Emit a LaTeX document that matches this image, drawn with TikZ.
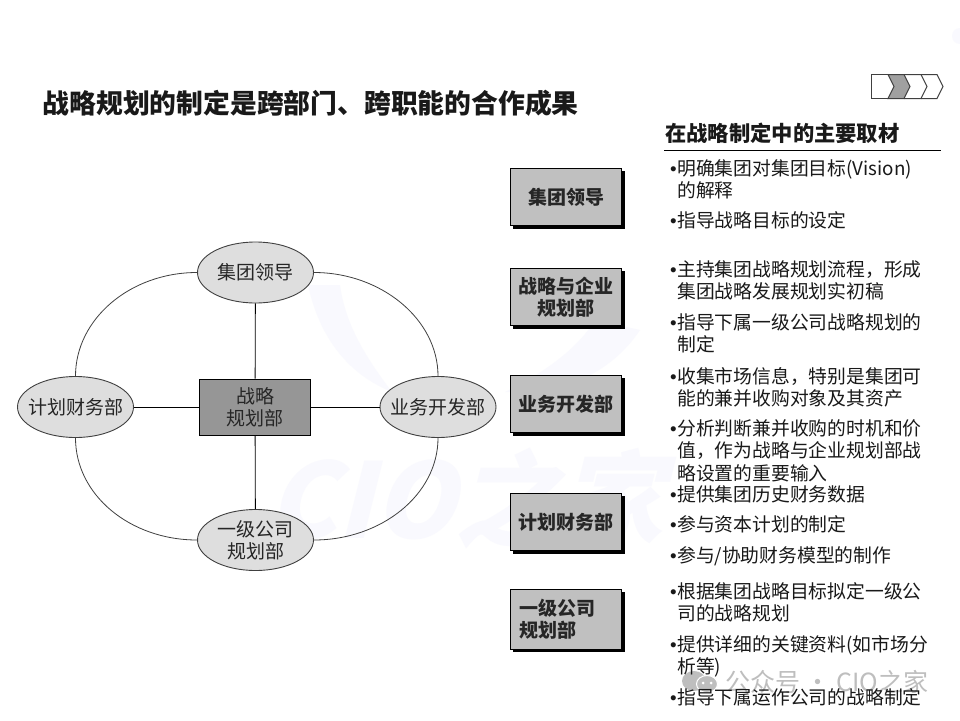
\documentclass[tikz,border=0pt]{standalone}
\usepackage{fontspec}
\setmainfont{Noto Sans CJK SC}
\newfontfamily\wmfont[FakeSlant=0.25]{Noto Sans CJK SC}
\newfontfamily\bulfont{Liberation Sans}
\usetikzlibrary{shapes.geometric}
\definecolor{ballgray}{HTML}{DEDEDE}
\definecolor{centergray}{HTML}{969696}
\definecolor{boxgray}{HTML}{C0C0C0}
\definecolor{markgray}{HTML}{A0A0A0}
\definecolor{wmgray}{HTML}{BEBEBE}
\definecolor{wmfaint}{HTML}{F9F9FE}
\definecolor{linegray}{HTML}{404040}
\newcommand{\fs}[2]{\fontsize{#1}{#2}\selectfont}
\newcommand{\bul}{\llap{{\bulfont •}\hspace{0.5pt}}}
\tikzset{
  ball/.style={ellipse,draw=linegray,fill=ballgray,line width=0.9pt,minimum width=116pt,minimum height=61pt,inner xsep=-9pt,inner ysep=-9pt,align=center,font=\fs{19}{22},text=black!85},
  hub/.style={rectangle,draw=black,fill=centergray,line width=1pt,minimum width=111pt,minimum height=56pt,inner sep=0pt,align=center,font=\fs{19}{22},text=black!85},
  tagbox/.style={rectangle,draw=black,fill=boxgray,line width=0.9pt,minimum width=111.5pt,minimum height=57.5pt,inner sep=0pt,align=center,font=\bfseries\fs{19}{22},text=black!85},
  tagshadow/.style={rectangle,fill=black,minimum width=111.5pt,minimum height=57.5pt,inner sep=0pt},
  listitem/.style={anchor=north west,inner sep=0pt,align=left,font=\fs{18.8}{22.3},text=black!90},
  ring/.style={draw=linegray,line width=0.8pt},
  spoke/.style={draw=black,line width=0.8pt},
  chevmark/.style={draw=linegray,line width=1pt,line join=miter},
}
\newcommand{\tagpair}[3]{%
  \node[tagshadow] (#1s) at (569,#2+3) {};
  \node[tagbox] (#1) at (566,#2) {#3};
}
\begin{document}
\begin{tikzpicture}[x=1pt,y=-1pt]
\useasboundingbox (0,0) rectangle (960,720);
\fill[white] (0,0) rectangle (960,720);
% faint watermark
\node[font=\wmfont\bfseries\fs{104}{104},text=wmfaint,anchor=center] (wmbig) at (465,498) {CIO之家};
\fill[wmfaint] (960,36) circle (8);
\fill[wmfaint] (308,285) .. controls (320,340) and (350,375) .. (392,392) .. controls (360,350) and (345,320) .. (340,285) -- cycle;
\fill[wmfaint] (640,330) .. controls (610,375) and (560,395) .. (505,392) .. controls (550,370) and (580,345) .. (595,320) -- cycle;

\node[anchor=west,inner sep=0pt,font=\bfseries\fs{26.8}{30},text=black!90] (title) at (42.5,103) {战略规划的制定是跨部门、跨职能的合作成果};
\node[anchor=west,inner sep=0pt,font=\bfseries\fs{21.3}{24},text=black!90] (head) at (665,133) {在战略制定中的主要取材};
\coordinate (ruleA) at (664,150.5);
\coordinate (ruleB) at (941,150.5);
\draw[black,line width=0.8pt] (ruleA) -- (ruleB);

% progress chevrons
\draw[chevmark] (888,74.5) -- (871.5,74.5) -- (871.5,98.5) -- (888,98.5);
\filldraw[chevmark,fill=markgray] (888,74.5) -- (904,74.5) -- (910,86.5) -- (904,98.5) -- (888,98.5) -- (894,86.5) -- cycle;
\draw[chevmark] (904,74.5) -- (921,74.5) -- (927,86.5) -- (921,98.5) -- (904,98.5);
\draw[chevmark] (921,74.5) -- (937,74.5) -- (943,86.5) -- (937,98.5) -- (921,98.5);

% diagram
\node[hub] (center) at (255,407) {战略\\规划部};
\node[ball] (top) at (255.5,272.5) {集团领导};
\node[ball] (left) at (75.5,407) {计划财务部};
\node[ball] (right) at (438,407) {业务开发部};
\node[ball] (bottom) at (255.5,540) {一级公司\\规划部};
\draw[spoke] (top) -- (center);
\draw[spoke] (bottom) -- (center);
\draw[spoke] (left) -- (center);
\draw[spoke] (right) -- (center);
\draw[ring] (top.west) .. controls +(-67,0) and +(0,-57) .. (left.north);
\draw[ring] (top.east) .. controls +(67,0) and +(0,-57) .. (right.north);
\draw[ring] (bottom.west) .. controls +(-67,0) and +(0,57) .. (left.south);
\draw[ring] (bottom.east) .. controls +(67,0) and +(0,57) .. (right.south);

% role boxes
\tagpair{t1}{197}{集团领导}
\tagpair{t2}{297}{战略与企业\\规划部}
\tagpair{t3}{404}{业务开发部}
\tagpair{t4}{522}{计划财务部}
\node[tagshadow,minimum height=60pt] (t5s) at (569,622) {};
\node[tagbox,minimum height=60pt,align=left] (t5) at (566,619) {\hspace*{-17pt}一级公司\\\hspace*{-17pt}规划部};

% account mark
\fill[wmgray] (694,681) ellipse (12 and 10);
\filldraw[draw=white,line width=1pt,fill=wmgray] (707,684) ellipse (10.5 and 8.5);
\fill[white] (703,683) circle (1.5);
\fill[white] (711,683) circle (1.5);
\node[anchor=west,inner sep=0pt,font=\fs{25}{27},text=wmgray] (wm) at (725,682) {公众号 · CIO之家};

% items
\node[listitem] (i1) at (677,159) {\bul 明确集团对集团目标(Vision)\\的解释};
\node[listitem] (i2) at (677,211) {\bul 指导战略目标的设定};
\node[listitem] (i3) at (677,260.5) {\bul 主持集团战略规划流程，形成\\集团战略发展规划实初稿};
\node[listitem] (i4) at (677,313.5) {\bul 指导下属一级公司战略规划的\\制定};
\node[listitem] (i5) at (677,367.5) {\bul 收集市场信息，特别是集团可\\能的兼并收购对象及其资产};
\node[listitem] (i6) at (677,419.5) {\bul 分析判断兼并收购的时机和价\\值，作为战略与企业规划部战\\略设置的重要输入};
\node[listitem] (i7) at (677,485.5) {\bul 提供集团历史财务数据};
\node[listitem] (i8) at (677,515.5) {\bul 参与资本计划的制定};
\node[listitem] (i9) at (677,546.5) {\bul 参与/协助财务模型的制作};
\node[listitem] (i10) at (677,582.5) {\bul 根据集团战略目标拟定一级公\\司的战略规划};
\node[listitem] (i11) at (677,635.5) {\bul 提供详细的关键资料(如市场分\\析等)};
\node[listitem] (i12) at (677,688.5) {\bul 指导下属运作公司的战略制定};
\end{tikzpicture}
\end{document}
